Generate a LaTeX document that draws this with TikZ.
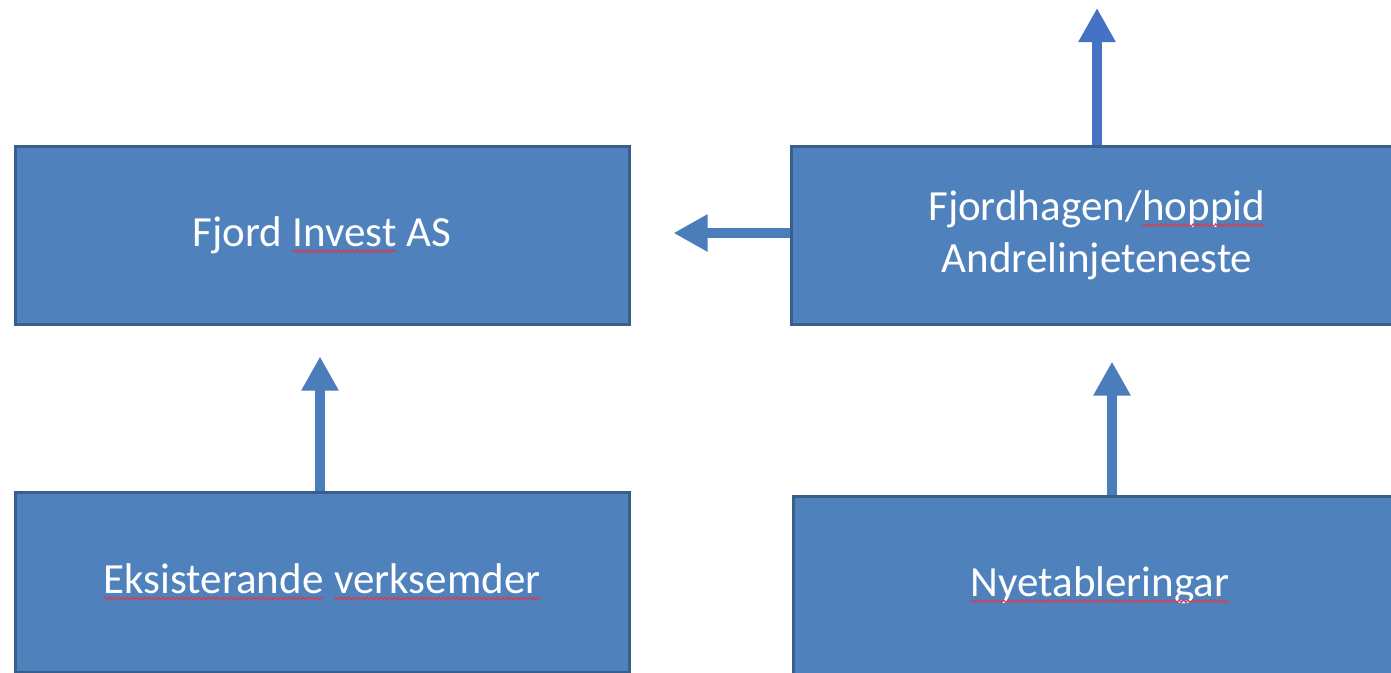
\documentclass[tikz,border=0pt]{standalone}
\usepackage{fontspec}
\setmainfont{Carlito}
\usetikzlibrary{arrows.meta,decorations.pathmorphing}
\definecolor{boxfill}{HTML}{4F81BD}
\definecolor{boxline}{HTML}{3A5F8B}
\definecolor{arrA}{HTML}{4472C4}
\definecolor{arrB}{HTML}{4A7EBB}
\definecolor{squigred}{HTML}{D04050}
\tikzset{
  plainword/.style={draw=none,fill=none,minimum width=0pt,minimum height=0pt,inner sep=0pt,outer sep=0pt,text=white},
  squigline/.style={draw=squigred,line width=1.2pt,decorate,decoration={snake,amplitude=1.3pt,segment length=4.5pt}},
  box/.style={draw=boxline,fill=boxfill,line width=3pt,minimum width=#1,minimum height=178pt,inner sep=0pt,text=white,font=\fontsize{43}{52}\selectfont,align=center},
  arr/.style={draw=arrB,line width=10pt,-{Triangle[width=35pt,length=34pt]}},
}
\newcommand\squig[1]{\tikz[baseline=(w.base)]{\node[plainword](w){#1};\path[squigline] ([yshift=-5pt]w.base west) -- ([yshift=-5pt]w.base east);}}
\begin{document}
\begin{tikzpicture}[x=1pt,y=-1pt]
\useasboundingbox (0,0) rectangle (1391,672);
\clip (0,0) rectangle (1391,672);
\node[box=614pt] (fi) at (322,235) {Fjord \squig{Invest} AS};
\node[box=612pt] (fh) at (1097,235) {Fjordhagen/\squig{hoppid}\\Andrelinjeteneste};
\node[box=614pt,minimum height=180pt] (eks) at (322,582) {\squig{Eksisterande} \squig{verksemder}};
\node[box=614pt] (ny) at (1100,585) {\squig{Nyetableringar}};
\coordinate (out) at (1097,8);
\draw[arr,draw=arrA] (fh.north) -- (out);
\draw[arr,shorten >=43pt] ([yshift=2pt]fh.west) -- ([yshift=2pt]fi.east);
\draw[arr,shorten >=31pt] ([xshift=-2pt]eks.north) -- ([xshift=-2pt]fi.south);
\draw[arr,shorten >=36pt] ([xshift=12pt]ny.north) -- ([xshift=15pt]fh.south);
\end{tikzpicture}
\end{document}
